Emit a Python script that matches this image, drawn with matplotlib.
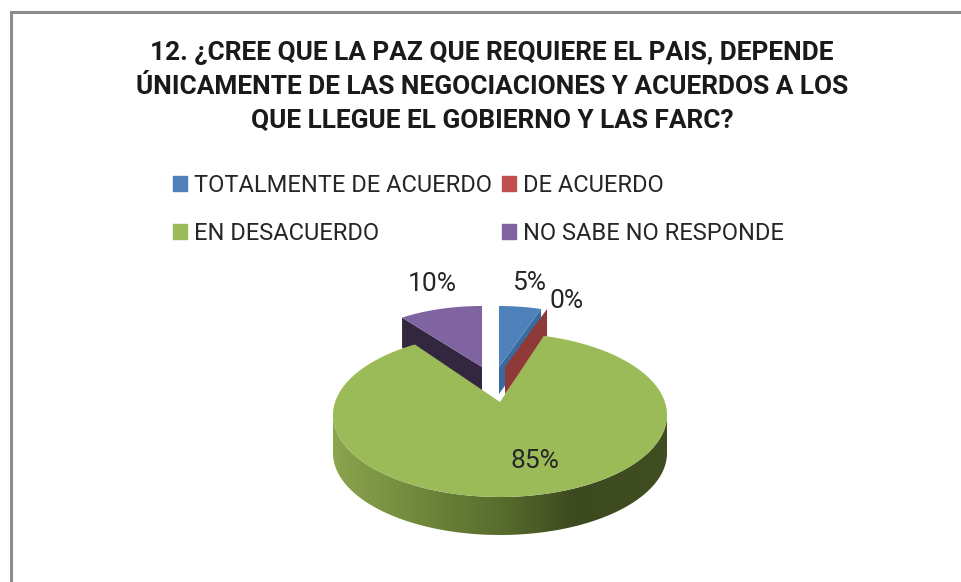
import numpy as np
import matplotlib
matplotlib.use('Agg')
import matplotlib.pyplot as plt
from matplotlib.colors import LinearSegmentedColormap
from matplotlib.patches import Patch, Polygon

title = ('12. ¿CREE QUE LA PAZ QUE REQUIERE EL PAIS, DEPENDE\n'
         'ÚNICAMENTE DE LAS NEGOCIACIONES Y ACUERDOS A LOS\n'
         'QUE LLEGUE EL GOBIERNO Y LAS FARC?')
categories = ['TOTALMENTE DE ACUERDO', 'DE ACUERDO', 'EN DESACUERDO', 'NO SABE NO RESPONDE']
values = [5, 0, 85, 10]

colors = ['#4F81BD', '#C0504D', '#9BBB59', '#8064A2']

plt.rcParams['font.family'] = ['Roboto', 'DejaVu Sans']

fig = plt.figure(figsize=(9.61, 5.82), dpi=100)
ax = fig.add_axes([0, 0, 1, 1])
ax.set_xlim(0, 961)
ax.set_ylim(582, 0)
ax.axis('off')

# slice angles, clockwise from 12 o'clock
ends = np.cumsum(values) / sum(values) * 360
starts = np.concatenate([[0], ends[:-1]])


def small_rim(cx, cy, t1, t2):
    # rim of an exploded slice, flat ellipse round its own apex
    t = np.radians(np.linspace(t1, t2, 60))
    return np.column_stack([cx + 136 * np.sin(t), cy - 61 * np.cos(t)])


def green_rim(t1, t2):
    # the apex sits above the ellipse centre, so follow rays from it to the rim
    cx, cy, rx, ry = 500, 415, 167, 82
    e = 13 / ry
    t = np.radians(np.linspace(t1, t2, 300))
    b = e * np.cos(t)
    r = -b + np.sqrt(b ** 2 + 1 - e ** 2)
    return np.column_stack([cx + rx * r * np.sin(t), cy - ry * (e + r * np.cos(t))])


def side_face(cx, cy, t, depth):
    p = small_rim(cx, cy, t, t)[0]
    return [(cx, cy), tuple(p), (p[0], p[1] + depth), (cx, cy + depth)]


# frame, open at the right and at the bottom
ax.plot([11, 11, 961], [582, 12, 12], color='#8c8c8c', lw=2.2, solid_joinstyle='miter')

# purple slice
ax.add_patch(Polygon(side_face(482, 367, starts[3], 30), color='#33263F', lw=0))
ax.add_patch(Polygon(np.vstack([[(482, 367)], small_rim(482, 367, starts[3], ends[3])]), color=colors[3], lw=0))

# blue slice and the side of the empty red one
ax.add_patch(Polygon(side_face(499, 367, ends[0], 27), color='#3A6A9E', lw=0))
ax.add_patch(Polygon(side_face(505, 367, ends[1], 27), color='#8F3A38', lw=0))
ax.add_patch(Polygon(np.vstack([[(499, 367)], small_rim(499, 367, starts[0], ends[0])]), color=colors[0], lw=0))

# green slice: wall with the shading, then the top
t = np.radians(np.linspace(90, 270, 200))
lower = np.column_stack([500 + 167 * np.sin(t), 415 - 82 * np.cos(t)])
wall = Polygon(np.vstack([lower, lower[::-1] + [0, 38]]), transform=ax.transData, fc='none', lw=0)
ax.add_patch(wall)
shade = LinearSegmentedColormap.from_list('shade', [(0, '#8BA44E'), (0.3, '#6C8339'), (0.5, '#586D2E'),
                                                    (0.72, '#3D4A1F'), (1, '#404E21')])
img = ax.imshow(np.linspace(0, 1, 256)[None, :], extent=[333, 667, 540, 410], cmap=shade, aspect='auto')
img.set_clip_path(wall)
ax.set_xlim(0, 961)
ax.set_ylim(582, 0)
ax.add_patch(Polygon(np.vstack([[(500, 402)], green_rim(starts[2], ends[2])]), color=colors[2], lw=0))

# title
ax.text(492, 87, title, ha='center', va='center', fontsize=18.9, fontweight='bold',
        color='#1a1a1a', linespacing=1.52)

# legend, filled column by column
handles = [Patch(color=c) for c in colors]
order = [0, 2, 1, 3]
ax.legend([handles[i] for i in order], [categories[i] for i in order], ncol=2,
          loc='upper left', bbox_to_anchor=(173, 174), bbox_transform=ax.transData,
          frameon=False, fontsize=17, handlelength=0.6, handleheight=0.6, handletextpad=0.3,
          columnspacing=0.4, labelspacing=1.04, borderpad=0, borderaxespad=0, labelcolor='#262626')

# percent labels
label_pos = [(529, 283), (567, 301), (535, 461), (432, 284)]
for v, (x, y) in zip(values, label_pos):
    ax.text(x, y, f'{v}%', ha='center', va='center', fontsize=19, color='#262626')

fig.savefig('out.png', dpi=100)
